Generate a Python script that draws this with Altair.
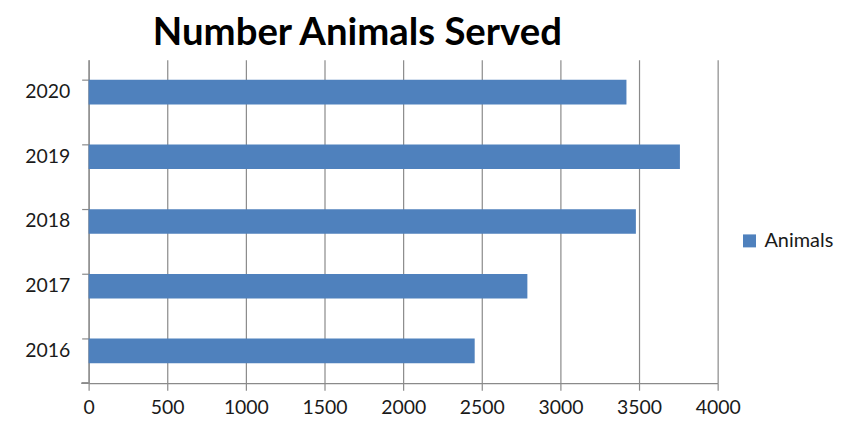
import altair as alt
import pandas as pd

years = ["2016", "2017", "2018", "2019", "2020"]
animals = [2455, 2790, 3480, 3760, 3420]
series = ["Animals"] * len(years)

df = pd.DataFrame({"Year": years, "Animals": animals, "Series": series})

W, H = 632, 325
FONT = "Lato"
GRID = "#8a8a8a"

bars = alt.Chart(df).mark_bar(color="#4F81BD").encode(
    x=alt.X(
        "Animals:Q",
        scale=alt.Scale(domain=[0, 4000], nice=False),
        axis=alt.Axis(
            values=[0, 500, 1000, 1500, 2000, 2500, 3000, 3500, 4000],
            format="d",
            title=None,
            grid=True,
            gridColor=GRID,
            gridWidth=1.2,
            domainColor=GRID,
            domainWidth=1.2,
            tickColor=GRID,
            tickWidth=1.2,
            tickSize=7,
            labelFlush=False,
            labelOverlap=False,
            labelFont=FONT,
            labelFontSize=19.5,
            labelColor="#1a1a1a",
            labelPadding=8,
        ),
    ),
    y=alt.Y(
        "Year:N",
        sort="descending",
        scale=alt.Scale(paddingInner=0.62, paddingOuter=0.31),
        axis=alt.Axis(
            title=None,
            bandPosition=0,
            grid=False,
            domainColor=GRID,
            domainWidth=1.2,
            tickColor=GRID,
            tickWidth=1.2,
            tickSize=7,
            labelFont=FONT,
            labelFontSize=19.5,
            labelColor="#1a1a1a",
            labelPadding=12,
        ),
    ),
    color=alt.Color(
        "Series:N",
        scale=alt.Scale(domain=["Animals"], range=["#4F81BD"]),
        legend=alt.Legend(
            title=None,
            orient="none",
            legendX=654,
            legendY=172,
            symbolType="square",
            symbolSize=170,
            symbolStrokeWidth=0,
            labelFont=FONT,
            labelFontSize=20,
            labelColor="#1a1a1a",
            labelOffset=5,
            padding=0,
        ),
    ),
)

corner = alt.Chart(df).mark_rule(color=GRID, strokeWidth=1.2).encode(
    x=alt.value(-7), x2=alt.value(0), y=alt.value(H)
)

chart = (
    alt.layer(bars, corner)
    .properties(
        width=W,
        height=H,
        autosize=alt.AutoSizeParams(type="none"),
        padding={"left": 81, "top": 51, "right": 140, "bottom": 45},
        title=alt.TitleParams(
            "Number Animals Served",
            font=FONT,
            fontSize=38.5,
            fontWeight="bold",
            color="#000000",
            anchor="middle",
            dx=-46,
            offset=6,
        ),
    )
    .configure_view(stroke=None)
)

chart.save("out.html", embed_options={"renderer": "svg", "actions": False})
